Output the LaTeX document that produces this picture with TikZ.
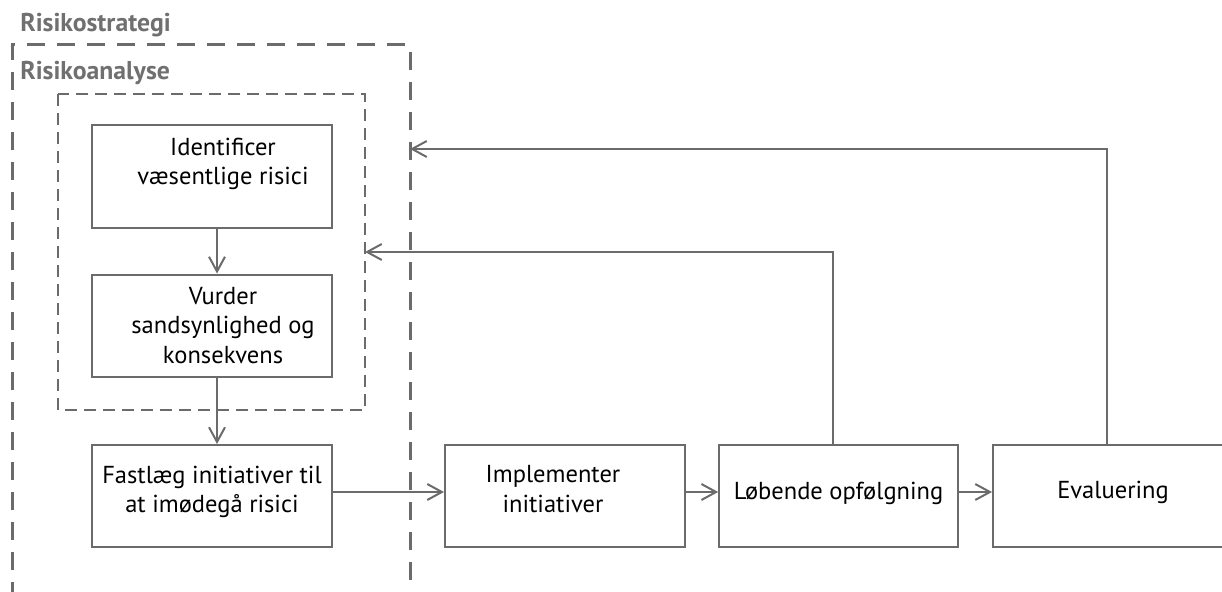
\documentclass[tikz,border=0pt]{standalone}
\usepackage{fontspec}
\setmainfont{PT Sans}
\usetikzlibrary{arrows.meta}

\definecolor{linjegraa}{HTML}{6B6B6B}
\definecolor{tekstgraa}{HTML}{707070}

\begin{document}
\begin{tikzpicture}[x=0.75pt, y=-0.75pt]
	\tikzstyle{every node}=[font=\fontsize{18.4}{22}\selectfont]
	\tikzstyle{boks} = [draw=linjegraa, line width=1.5pt, minimum width=180pt, minimum height=76.5pt, inner sep=0pt]
	\tikzstyle{tekst} = [align=center, inner sep=0pt]
	\tikzstyle{pil} = [-{Straight Barb[length=11pt, width=12pt]}, draw=linjegraa, line width=1.5pt]
	\tikzstyle{ramme} = [draw=linjegraa, line width=2.25pt, dash pattern=on 13.5pt off 9pt]
	\tikzstyle{indramme} = [draw=linjegraa, line width=1.9pt, dash pattern=on 9pt off 5.25pt]
	\tikzstyle{overskrift} = [anchor=base west, inner sep=0pt, text=tekstgraa, font=\fontsize{19.3}{22}\selectfont\bfseries]

	\useasboundingbox (0,0) rectangle (1222,592);

	% stiplede rammer
	\draw[ramme] (12,600) -- (12,45) -- (410,45) -- (410,600);
	\draw[indramme] (58,94) rectangle (365,410);
	\node[overskrift] (strategi) at (20,32) {Risikostrategi};
	\node[overskrift] (analyse) at (20,80) {Risikoanalyse};
	\coordinate (strategiR) at (410,149);
	\coordinate (analyseR) at (365,252);

	% kasser
	\node[boks, label={[tekst, xshift=8.25pt, yshift=9.4pt]center:Identificer\\væsentlige risici}] (ident) at (212,176.5) {};
	\node[boks, label={[tekst, xshift=8.25pt]center:Vurder\\sandsynlighed og\\konsekvens}] (vurder) at (212,325.5) {};
	\node[boks, label={[tekst, yshift=3pt]center:Fastlæg initiativer til\\at imødegå risici}] (fastlaeg) at (212,496) {};
	\node[boks, label={[tekst, xshift=-9pt, yshift=5.25pt]center:Implementer\\initiativer}] (impl) at (565,496) {};
	\node[boks, minimum width=179pt, label={[tekst, yshift=2.25pt]center:Løbende opfølgning}] (loeb) at (838.5,496) {};
	\node[boks, label={[tekst, yshift=3pt]center:Evaluering}] (eval) at (1113,496) {};

	% pile
	\draw[pil] ([xshift=3.75pt]ident.south) -- ([xshift=3.75pt]vurder.north);
	\draw[pil] ([xshift=3.75pt]vurder.south) -- ([xshift=3.75pt]fastlaeg.north);
	\draw[pil] ([yshift=3pt]fastlaeg.east) -- ([yshift=3pt]impl.west);
	\draw[pil] ([yshift=3pt]impl.east) -- ([yshift=3pt]loeb.west);
	\draw[pil] ([yshift=3pt]loeb.east) -- ([yshift=3pt]eval.west);
	\draw[pil] ([xshift=-4.1pt]loeb.north) |- (analyseR);
	\draw[pil] ([xshift=-4.5pt]eval.north) |- (strategiR);
\end{tikzpicture}
\end{document}
